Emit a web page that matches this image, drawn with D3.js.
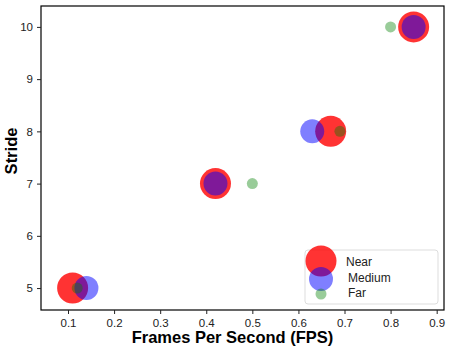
<!DOCTYPE html>
<html><head><meta charset="utf-8">
<script src="https://cdn.jsdelivr.net/npm/d3@7"></script>
<style>body{margin:0;background:#fff}svg{display:block}text{font-family:"Liberation Sans",Arial,sans-serif}</style>
</head><body>
<script>
const seriesNames = ["Near", "Medium", "Far"];
const nearX = [0.11, 0.42, 0.67, 0.85];
const nearY = [5, 7, 8, 10];
const mediumX = [0.14, 0.42, 0.63, 0.85];
const mediumY = [5, 7, 8, 10];
const farX = [0.12, 0.50, 0.69, 0.80];
const farY = [5, 7, 8, 10];
const xTicks = [0.1, 0.2, 0.3, 0.4, 0.5, 0.6, 0.7, 0.8, 0.9];
const yTicks = [5, 6, 7, 8, 9, 10];

const W = 453, H = 349;
const L = 41, R = 444, T = 6, B = 310;
const svg = d3.select("body").append("svg").attr("width", W).attr("height", H);
const x = d3.scaleLinear().domain([0.0414, 0.9159]).range([L, R]);
const y = d3.scaleLinear().domain([4.58, 10.40]).range([B, T]);

const styles = [
  {fill: "rgba(255,0,0,0.8)", r: 15.5},
  {fill: "rgba(0,0,255,0.5)", r: 12},
  {fill: "rgba(0,128,0,0.4)", r: 5.5}
];
const series = [[nearX, nearY], [mediumX, mediumY], [farX, farY]];

series.forEach((s, i) => {
  svg.append("g").selectAll("circle").data(s[0].map((v, j) => [v, s[1][j]]))
    .join("circle").attr("cx", d => x(d[0])).attr("cy", d => y(d[1]))
    .attr("r", styles[i].r).attr("fill", styles[i].fill);
});

// frame
svg.append("rect").attr("x", L).attr("y", T).attr("width", R - L).attr("height", B - T)
  .attr("fill", "none").attr("stroke", "#000").attr("stroke-width", 1.2);

const xAxis = svg.append("g").attr("transform", `translate(0,${B})`)
  .call(d3.axisBottom(x).tickValues(xTicks).tickSize(4).tickPadding(5).tickFormat(d3.format(".1f")));
const yAxis = svg.append("g").attr("transform", `translate(${L},0)`)
  .call(d3.axisLeft(y).tickValues(yTicks).tickSize(4).tickPadding(4).tickFormat(d3.format("d")));
[xAxis, yAxis].forEach(a => {
  a.select(".domain").remove();
  a.selectAll("text").attr("font-size", 11.5).attr("fill", "#222").style("font-family", '"Liberation Sans",Arial,sans-serif');
  a.selectAll("line").attr("stroke", "#222");
});

svg.append("text").attr("x", 232.5).attr("y", 343).attr("text-anchor", "middle")
  .attr("font-size", 16.5).attr("font-weight", "bold").text("Frames Per Second (FPS)");
svg.append("text").attr("transform", `translate(17,151) rotate(-90)`).attr("text-anchor", "middle")
  .attr("font-size", 16.5).attr("font-weight", "bold").text("Stride");

// legend
const lg = svg.append("g");
lg.append("rect").attr("x", 305).attr("y", 250).attr("width", 133).attr("height", 54).attr("rx", 3)
  .attr("fill", "rgba(255,255,255,0.8)").attr("stroke", "#ddd");
const legY = [261, 279, 294];
const labY = [266, 282, 297];
const labX = [346, 348, 348];
seriesNames.forEach((n, i) => {
  lg.append("circle").attr("cx", 321).attr("cy", legY[i]).attr("r", styles[i].r).attr("fill", styles[i].fill);
  lg.append("text").attr("x", labX[i]).attr("y", labY[i]).attr("font-size", 12).attr("fill", "#222").text(n);
});
</script>
</body></html>
